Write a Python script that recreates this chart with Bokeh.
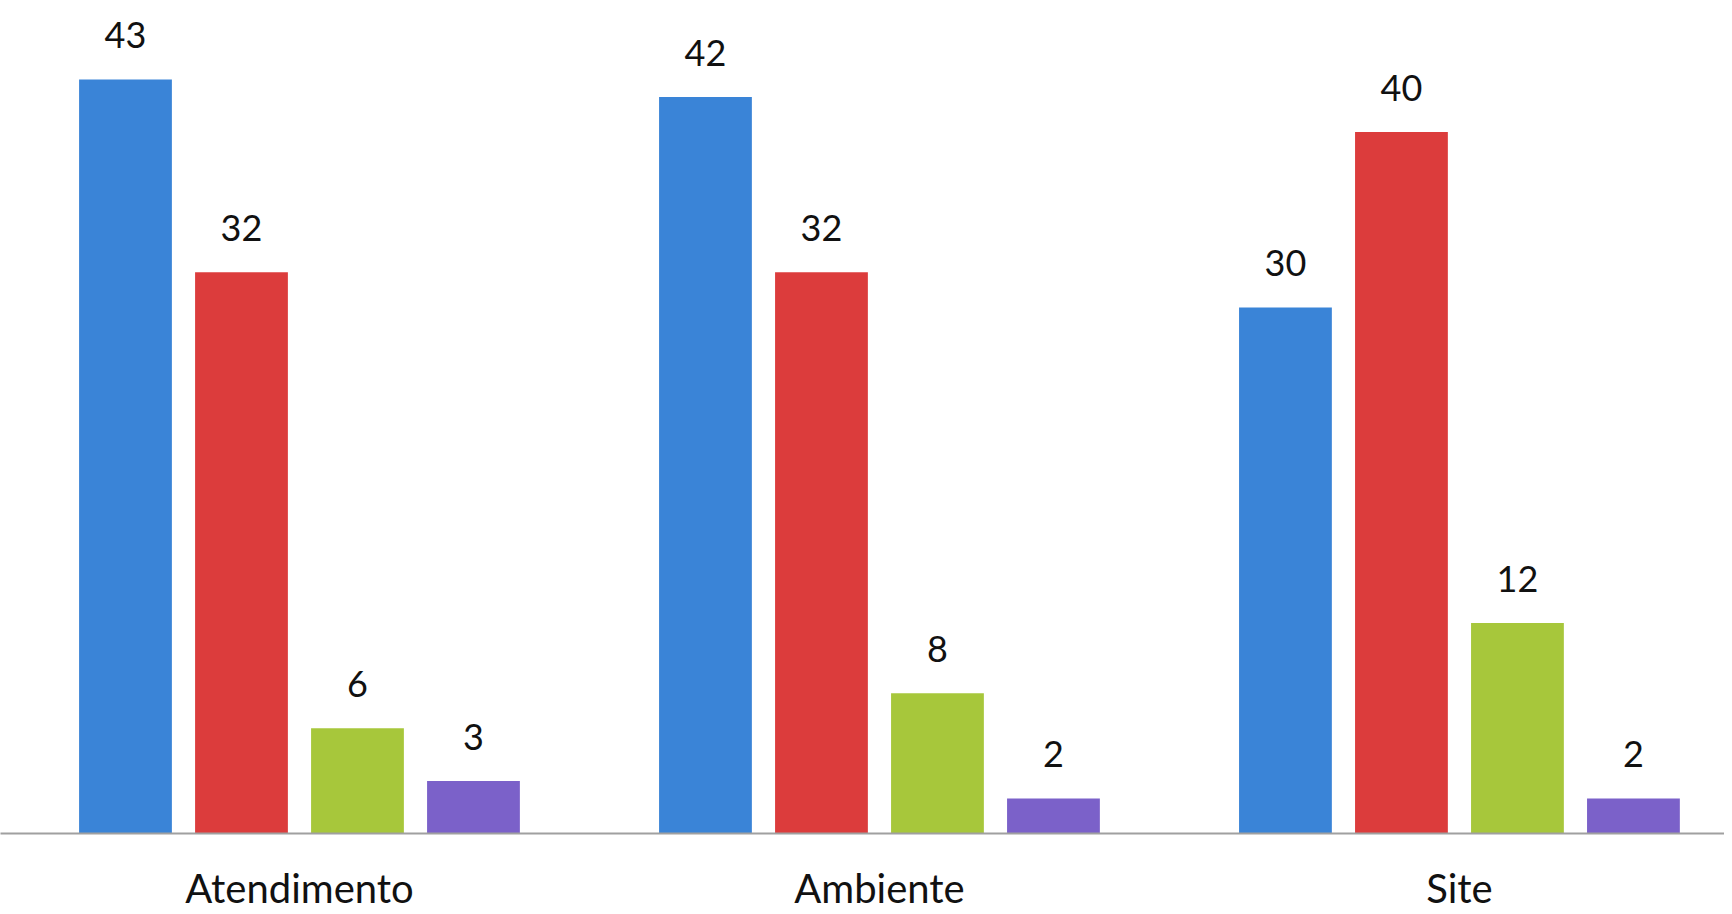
from bokeh.plotting import figure
from bokeh.models import ColumnDataSource, Range1d, FixedTicker
from bokeh.transform import dodge
from bokeh.core.properties import value
from bokeh.embed import file_html
from bokeh.resources import INLINE

categories = ["Atendimento", "Ambiente", "Site"]
serie_1 = [43, 42, 30]
serie_2 = [32, 32, 40]
serie_3 = [6, 8, 12]
serie_4 = [3, 2, 2]
series_names = ["serie_1", "serie_2", "serie_3", "serie_4"]
colors = ["#3a84d7", "#dc3c3c", "#a7c73b", "#7b61c9"]

data = {"idx": list(range(len(categories))), "cat": categories,
        "serie_1": serie_1, "serie_2": serie_2, "serie_3": serie_3, "serie_4": serie_4}
for n in series_names:
    data[n + "_lbl"] = [str(v) for v in data[n]]
source = ColumnDataSource(data)

p = figure(width=1724, height=914,
           x_range=Range1d(-0.5155, 2.457), y_range=Range1d(0, 47.5),
           output_backend="svg", toolbar_location=None,
           min_border_left=0, min_border_right=0, min_border_top=0, min_border_bottom=78)

bar_pitch = 0.2
bar_width = 0.16
n_series = len(series_names)
for j, (name, col) in enumerate(zip(series_names, colors)):
    off = (j - (n_series - 1) / 2) * bar_pitch
    p.vbar(x=dodge("idx", off, range=p.x_range), top=name, width=bar_width, bottom=0,
           source=source, fill_color=col, line_color=None)
    p.text(x=dodge("idx", off, range=p.x_range), y=name, text=name + "_lbl", source=source,
           text_align="center", text_baseline="alphabetic", y_offset=-44,
           text_font=value("Lato"), text_font_size="36px", text_color="#111111")

p.xaxis.ticker = FixedTicker(ticks=list(range(len(categories))))
p.xaxis.major_label_overrides = {i: c for i, c in enumerate(categories)}
p.xaxis.major_label_text_font = "Lato"
p.xaxis.major_label_text_font_size = "40px"
p.xaxis.major_label_text_color = "#111111"
p.xaxis.major_label_standoff = 30
p.xaxis.axis_line_color = "#a0a0a0"
p.xaxis.axis_line_width = 2
p.xaxis.major_tick_line_color = None
p.xaxis.minor_tick_line_color = None
p.xaxis.major_tick_out = 0
p.yaxis.visible = False
p.xgrid.grid_line_color = None
p.ygrid.grid_line_color = None
p.outline_line_color = None
p.background_fill_color = "white"
p.border_fill_color = "white"

open("out.html", "w").write(file_html(p, INLINE))
